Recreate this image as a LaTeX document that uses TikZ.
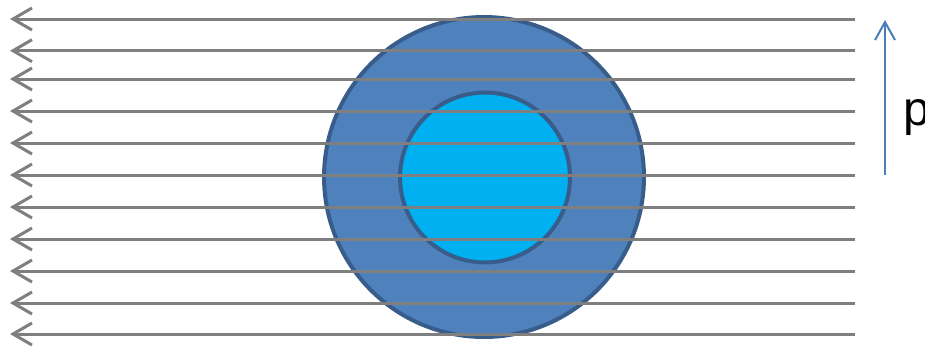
\documentclass[tikz,border=0pt]{standalone}
\usepackage{fontspec}
\setmainfont{Liberation Sans}
\usepackage{tikz}
\usetikzlibrary{arrows.meta,positioning}
\definecolor{flowgray}{HTML}{7F7F7F}
\definecolor{shellblue}{HTML}{4F81BD}
\definecolor{rimblue}{HTML}{385D8A}
\definecolor{coreblue}{HTML}{00B0F0}
\definecolor{pblue}{HTML}{4A7EBB}

\begin{document}
\begin{tikzpicture}[
    x=0.02cm, y=-0.02cm,
    shell/.style={circle, draw=rimblue, line width=0.08cm, fill=shellblue,
      minimum size=6.4cm, inner sep=0pt},
    core/.style={circle, draw=rimblue, line width=0.08cm, fill=coreblue,
      minimum size=3.4cm, inner sep=0pt},
    flux/.style={draw=flowgray, line width=0.06cm,
      -{Straight Barb[length=0.38cm, width=0.44cm]}},
    moment/.style={draw=pblue, line width=0.04cm,
      -{Straight Barb[length=0.36cm, width=0.4cm]}},
    lbl/.style={font=\fontsize{27.5}{32}\selectfont, inner sep=0pt, anchor=base west}
  ]
    \useasboundingbox (0,0) rectangle (925,346);
    \node[shell] (outer) at (484,177) {};
    \node[core] (inner) at (485,177.5) {};
    % field lines
    \foreach \yy [count=\i] in {19,50.7,79,111,143,175,207,239,271,303,334} {
      \coordinate (r\i) at (855,\yy);
      \coordinate (l\i) at (10,\yy);
      \draw[flux] (r\i) -- (l\i);
    }
    \coordinate (pfoot) at (885,175);
    \coordinate (ptip) at (885,20);
    \draw[moment] (pfoot) -- (ptip);
    \node[lbl] (plabel) at (903,125) {p};
  \end{tikzpicture}
\end{document}
